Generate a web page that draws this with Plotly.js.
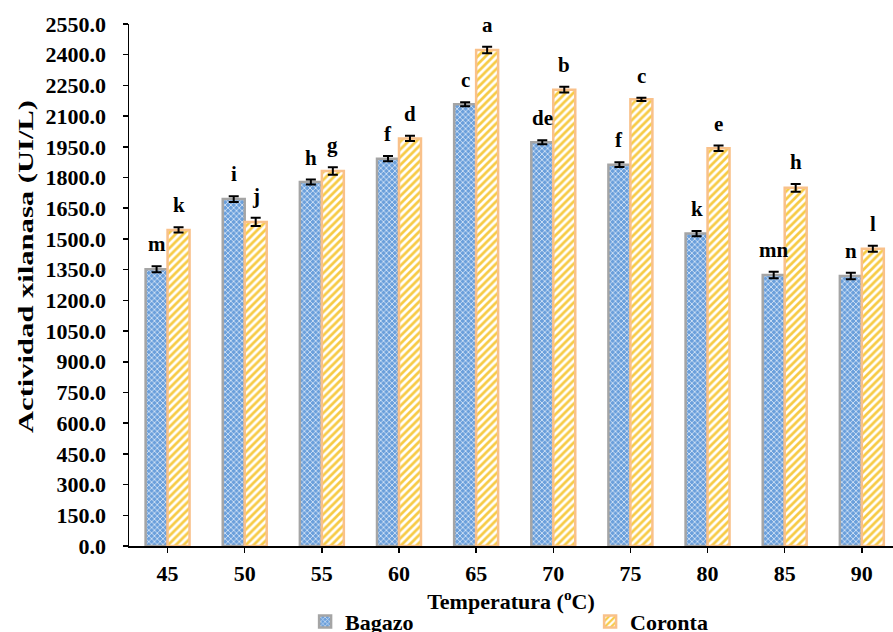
<!DOCTYPE html>
<html><head><meta charset="utf-8">
<script src="https://cdn.plot.ly/plotly-3.0.1.min.js"></script>
<style>html,body{margin:0;padding:0;background:#fff}#chart{width:893px;height:632px}</style>
</head><body><div id="chart"></div>
<script>
const temperaturas = ['45','50','55','60','65','70','75','80','85','90'];
const bagazo = [1352,1695,1778,1892,2158,1972,1863,1526,1324,1319];
const bagazoErr = [15,14,12,13,10,10,12,13,16,16];
const coronta = [1544,1583,1832,1991,2423,2229,2182,1943,1750,1452];
const corontaErr = [13,20,18,13,16,14,8,13,19,15];
const letrasBagazo = ['m','i','h','f','c','de','f','k','mn','n'];
const letrasCoronta = ['k','j','g','d','a','b','c','e','h','l'];

const FONT = 'Liberation Serif, Times New Roman, serif';
const BARGAP = 0.43;
const half = (1 - BARGAP) / 4;

const data = [
  {type:'bar', name:'Bagazo', x:temperaturas, y:bagazo,
   marker:{color:'#6a9fdb', line:{color:'#a5a5a5', width:2.5},
     pattern:{shape:'x', bgcolor:'#6a9fdb', fgcolor:'#d8e6f7', size:4, solidity:0.38}},
   error_y:{type:'data', array:bagazoErr, visible:true, color:'#000', thickness:2, width:5}},
  {type:'bar', name:'Coronta', x:temperaturas, y:coronta,
   marker:{color:'#ffffff', line:{color:'#f9c18a', width:2.5},
     pattern:{shape:'/', bgcolor:'#ffffff', fgcolor:'#f7cb45', size:5.5, solidity:0.5}},
   error_y:{type:'data', array:corontaErr, visible:true, color:'#000', thickness:2, width:5}}
];

const annotations = [];
temperaturas.forEach((t, i) => {
  annotations.push({x:i - half, y:bagazo[i] + bagazoErr[i], xref:'x', yref:'y', text:letrasBagazo[i],
    showarrow:false, yanchor:'bottom', yshift:8, font:{family:FONT, size:21, color:'#000', weight:'bold'}});
  annotations.push({x:i + half, y:coronta[i] + corontaErr[i], xref:'x', yref:'y', text:letrasCoronta[i],
    showarrow:false, yanchor:'bottom', yshift:8, font:{family:FONT, size:21, color:'#000', weight:'bold'}});
});
annotations.push({xref:'paper', yref:'paper', x:-0.136, y:0.536, text:'Actividad xilanasa (UI/L)',
  textangle:-90, showarrow:false, xanchor:'center', yanchor:'middle',
  font:{family:FONT, size:22, color:'#000', weight:'bold'}});

const layout = {
  width:893, height:632,
  margin:{l:129, r:0, t:24, b:86, autoexpand:false},
  paper_bgcolor:'#fff', plot_bgcolor:'#fff',
  barmode:'group', bargap:BARGAP, bargroupgap:0,
  font:{family:FONT, color:'#000'},
  xaxis:{type:'category', range:[-0.5, 9.404], showline:true, linecolor:'#000', linewidth:1.5,
    ticks:'outside', ticklen:5, tickwidth:1.5, tickcolor:'#000', ticklabelstandoff:2, automargin:false,
    tickfont:{family:FONT, size:22, color:'#000', weight:'bold'}, showgrid:false, zeroline:false,
    title:{text:'Temperatura (<sup>o</sup>C)', font:{family:FONT, size:22, color:'#000', weight:'bold'}, standoff:1}},
  yaxis:{range:[0,2550], tick0:0, dtick:150, tickformat:'.1f', showline:true, linecolor:'#000', linewidth:1.5,
    ticks:'outside', ticklen:5, tickwidth:1.5, tickcolor:'#000', ticklabelstandoff:12, automargin:false,
    tickfont:{family:FONT, size:22, color:'#000', weight:'bold'}, showgrid:false, zeroline:false},
  showlegend:true,
  legend:{orientation:'h', x:0.2305, y:-0.105, xanchor:'left', yanchor:'top', entrywidth:240, entrywidthmode:'pixels',
    font:{family:FONT, size:22, color:'#000', weight:'bold'}, itemwidth:30, tracegroupgap:0},
  annotations:annotations
};

function stretchTitle(gd) {
  const anns = gd.querySelectorAll('.annotation-text');
  const yt = anns[anns.length - 1];
  if (yt) {
    yt.setAttribute('textLength', '333');
    yt.setAttribute('lengthAdjust', 'spacingAndGlyphs');
  }
}
Plotly.newPlot('chart', data, layout, {staticPlot:true}).then(gd => {
  stretchTitle(gd);
  setTimeout(() => stretchTitle(gd), 50);
});
</script>
</body></html>
